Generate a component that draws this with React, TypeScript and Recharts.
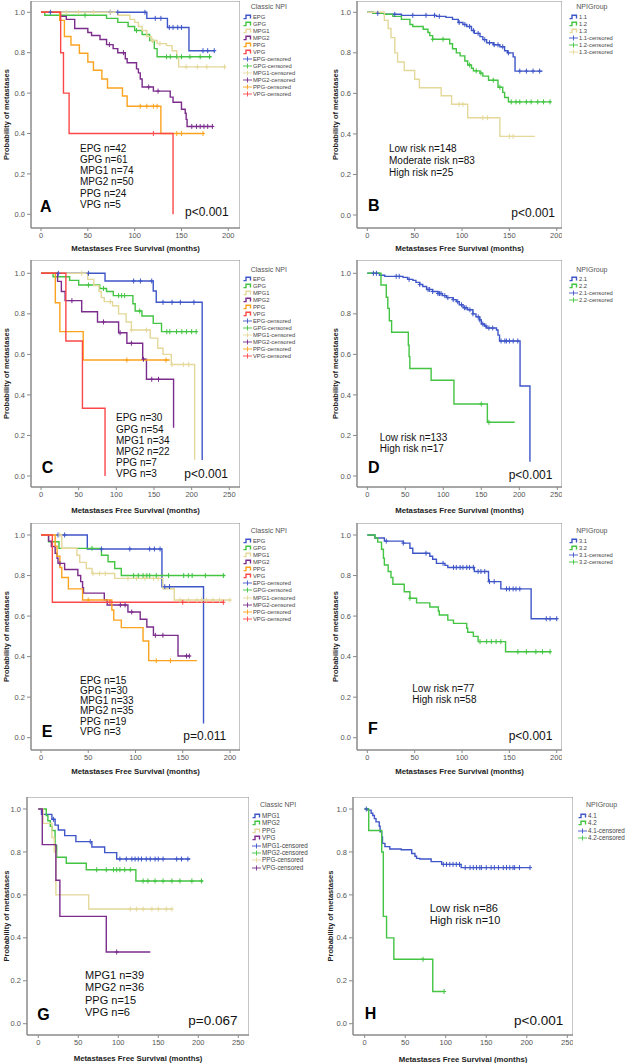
import { ComposedChart, Line, XAxis, YAxis, ReferenceArea } from "recharts"

type Pt = [number, number]

const FONT = "'Liberation Sans', Arial, sans-serif"
const BLUE = "#3f56c8"
const GREEN = "#43c443"
const KHAKI = "#e4d89a"
const PURPLE = "#7b2c8c"
const ORANGE = "#fba31e"
const RED = "#fb4848"

// survival curves: [months, survival] steps, plus censored times

// A - classic NPI, whole cohort
const aEpg: Pt[] = [[0, 1], [113, 0.97], [135, 0.925], [158, 0.81], [186, 0.81]]
const aEpgCens = [10, 74, 82, 111, 122, 128, 137, 141, 146, 150, 173, 178, 185]
const aGpg: Pt[] = [[0, 1], [4, 0.985], [70, 0.97], [82, 0.95], [93, 0.93], [100, 0.91], [108, 0.89], [116, 0.86], [121, 0.82], [124, 0.78], [182, 0.78]]
const aGpgCens = [47, 102, 134, 138, 145, 150, 159, 170, 180]
const aMpg1: Pt[] = [[0, 1], [82, 0.985], [95, 0.965], [100, 0.95], [104, 0.93], [108, 0.91], [113, 0.88], [118, 0.86], [124, 0.845], [134, 0.835], [140, 0.81], [145, 0.78], [147, 0.73], [197, 0.73]]
const aMpg1Cens = [27, 40, 56, 74, 119, 127, 155, 167, 177, 196]
const aMpg2: Pt[] = [[0, 1], [20, 0.98], [27, 0.965], [36, 0.92], [50, 0.9], [54, 0.885], [63, 0.865], [70, 0.84], [77, 0.82], [82, 0.8], [90, 0.77], [92, 0.75], [102, 0.72], [104, 0.7], [106, 0.67], [108, 0.63], [120, 0.61], [138, 0.58], [141, 0.555], [150, 0.52], [154, 0.5], [155, 0.47], [156, 0.435], [184, 0.435]]
const aMpg2Cens = [73, 88, 115, 125, 161, 166, 170, 174, 178, 183]
const aPpg: Pt[] = [[0, 1], [20, 0.96], [25, 0.88], [32, 0.838], [41, 0.797], [50, 0.754], [56, 0.713], [65, 0.67], [71, 0.625], [87, 0.586], [92, 0.535], [128, 0.4], [174, 0.4]]
const aPpgCens = [106, 113, 120, 124, 145, 150, 173]
const aVpg: Pt[] = [[0, 1], [21, 0.8], [24, 0.6], [30, 0.4], [141, 0]]
const aVpgCens = [120]
const aCounts = [42, 61, 74, 50, 24, 5]

// B - NPI groups, whole cohort
const b11: Pt[] = [[0, 1], [6, 0.995], [18, 0.99], [36, 0.985], [73, 0.98], [83, 0.975], [90, 0.965], [96, 0.95], [101, 0.94], [105, 0.93], [110, 0.91], [113, 0.896], [119, 0.88], [122, 0.865], [126, 0.85], [133, 0.84], [140, 0.83], [145, 0.81], [148, 0.8], [154, 0.78], [156, 0.71], [185, 0.71]]
const b11Cens = [11, 29, 48, 62, 71, 76, 97, 103, 108, 112, 117, 124, 129, 134, 138, 143, 149, 161, 168, 175, 182]
const b12: Pt[] = [[0, 1], [6, 0.995], [18, 0.99], [27, 0.98], [36, 0.965], [45, 0.94], [48, 0.93], [59, 0.916], [64, 0.9], [66, 0.885], [69, 0.867], [87, 0.845], [90, 0.82], [94, 0.8], [98, 0.785], [103, 0.76], [106, 0.74], [110, 0.724], [112, 0.711], [119, 0.7], [122, 0.685], [128, 0.665], [138, 0.63], [143, 0.605], [145, 0.58], [149, 0.558], [194, 0.558]]
const b12Cens = [69, 80, 108, 115, 120, 133, 140, 152, 157, 161, 168, 173, 180, 186, 193]
const b13: Pt[] = [[0, 1], [18, 0.96], [22, 0.92], [25, 0.875], [29, 0.8], [32, 0.755], [39, 0.713], [50, 0.67], [55, 0.628], [78, 0.588], [89, 0.546], [106, 0.48], [140, 0.388], [177, 0.388]]
const b13Cens = [97, 101, 122, 127, 150, 154]
const bCounts = [148, 83, 25]

// C
const cEpg: Pt[] = [[0, 1], [85, 0.962], [149, 0.913], [153, 0.857], [214, 0.079]]
const cEpgCens = [23, 63, 123, 132, 147, 162, 174, 185, 203]
const cGpg: Pt[] = [[0, 1], [16, 0.983], [38, 0.965], [50, 0.942], [78, 0.925], [87, 0.91], [96, 0.89], [122, 0.85], [125, 0.814], [134, 0.789], [149, 0.753], [160, 0.712], [207, 0.712]]
const cGpgCens = [63, 83, 103, 107, 111, 131, 167, 171, 180, 187, 193, 200, 206]
const cMpg1: Pt[] = [[0, 1], [62, 0.97], [70, 0.94], [77, 0.91], [80, 0.88], [84, 0.86], [95, 0.84], [103, 0.8], [113, 0.76], [120, 0.72], [145, 0.68], [155, 0.63], [162, 0.6], [173, 0.55], [204, 0.08]]
const cMpg1Cens = [54, 92, 120, 140, 174, 189, 196]
const cMpg2: Pt[] = [[0, 1], [22, 0.96], [27, 0.91], [32, 0.865], [54, 0.81], [75, 0.76], [103, 0.707], [114, 0.655], [135, 0.576], [140, 0.477], [176, 0.238]]
const cMpg2Cens = [41, 83, 105, 120, 136, 147, 156]
const cPpg: Pt[] = [[0, 1], [19, 0.855], [25, 0.712], [56, 0.572], [171, 0.572]]
const cPpgCens = [114, 166]
const cVpg: Pt[] = [[0, 1], [33, 0.666], [55, 0.334], [85, 0]]
const cVpgCens: number[] = []
const cCounts = [30, 54, 34, 22, 7, 3]

// D
const d21: Pt[] = [[0, 1], [16, 0.99], [23, 0.985], [47, 0.98], [53, 0.97], [60, 0.965], [64, 0.955], [69, 0.945], [73, 0.935], [78, 0.92], [86, 0.91], [93, 0.9], [99, 0.89], [104, 0.88], [113, 0.87], [117, 0.86], [121, 0.845], [126, 0.83], [132, 0.82], [139, 0.8], [143, 0.785], [148, 0.77], [150, 0.75], [154, 0.74], [157, 0.73], [170, 0.72], [172, 0.695], [174, 0.666], [201, 0.444], [214, 0.07]]
const d21Cens = [8, 12, 38, 42, 55, 69, 80, 82, 86, 93, 95, 97, 102, 106, 113, 119, 124, 128, 130, 135, 139, 146, 148, 152, 156, 160, 165, 176, 181, 183, 187, 192, 198]
const d22: Pt[] = [[0, 1], [18, 0.942], [25, 0.882], [27, 0.827], [29, 0.766], [32, 0.709], [54, 0.645], [55, 0.589], [56, 0.53], [84, 0.472], [114, 0.355], [158, 0.265], [194, 0.265]]
const d22Cens = [150, 160]
const dCounts = [133, 17]

// E
const eEpg: Pt[] = [[0, 1], [49, 0.931], [128, 0.745], [172, 0.07]]
const eEpgCens = [18, 25, 64, 94, 115, 120, 126, 131, 136]
const eGpg: Pt[] = [[0, 1], [8, 0.967], [19, 0.934], [64, 0.9], [71, 0.868], [78, 0.835], [85, 0.8], [195, 0.8]]
const eGpgCens = [54, 98, 103, 108, 112, 115, 122, 135, 151, 156, 160, 174, 193]
const eMpg1: Pt[] = [[0, 1], [22, 0.935], [38, 0.9], [41, 0.865], [48, 0.835], [54, 0.81], [78, 0.786], [129, 0.735], [141, 0.679], [200, 0.679]]
const eMpg1Cens = [20, 55, 62, 68, 92, 101, 110, 119, 124, 147, 156, 165, 170, 175, 182, 189, 200]
const eMpg2: Pt[] = [[0, 1], [8, 0.97], [11, 0.943], [15, 0.91], [17, 0.885], [18, 0.86], [25, 0.83], [39, 0.8], [42, 0.77], [44, 0.74], [45, 0.713], [67, 0.68], [70, 0.655], [92, 0.62], [105, 0.584], [112, 0.546], [119, 0.505], [145, 0.403], [158, 0.403]]
const eMpg2Cens = [20, 84, 89, 96, 121, 129, 154, 157]
const ePpg: Pt[] = [[0, 1], [15, 0.945], [17, 0.895], [20, 0.84], [22, 0.79], [29, 0.734], [44, 0.679], [75, 0.63], [77, 0.58], [85, 0.543], [108, 0.477], [114, 0.38], [165, 0.38]]
const ePpgCens = [50, 122, 137]
const eVpg: Pt[] = [[0, 1], [12, 0.668], [193, 0.668]]
const eVpgCens = [73, 150, 193]
const eCounts = [15, 30, 33, 35, 19, 3]

// F
const f31: Pt[] = [[0, 1], [8, 0.985], [18, 0.97], [38, 0.96], [45, 0.935], [48, 0.91], [66, 0.895], [69, 0.88], [73, 0.86], [82, 0.85], [85, 0.84], [113, 0.82], [128, 0.77], [141, 0.734], [173, 0.587], [201, 0.587]]
const f31Cens = [20, 38, 62, 80, 91, 94, 98, 101, 105, 108, 112, 117, 120, 124, 129, 134, 147, 150, 154, 157, 161, 189, 193, 200]
const f32: Pt[] = [[0, 1], [8, 0.985], [11, 0.965], [15, 0.93], [17, 0.885], [18, 0.852], [22, 0.82], [25, 0.79], [27, 0.757], [39, 0.72], [45, 0.688], [52, 0.665], [66, 0.645], [75, 0.625], [76, 0.605], [85, 0.58], [91, 0.564], [105, 0.54], [106, 0.52], [112, 0.5], [117, 0.474], [146, 0.424], [194, 0.424]]
const f32Cens = [45, 119, 126, 131, 136, 141, 159, 168, 178, 185, 193]
const fCounts = [77, 58]

// G
const gMpg1: Pt[] = [[0, 1], [4, 0.975], [17, 0.952], [21, 0.925], [25, 0.902], [33, 0.876], [47, 0.848], [67, 0.823], [83, 0.797], [98, 0.767], [190, 0.767]]
const gMpg1Cens = [19, 65, 102, 110, 117, 121, 125, 129, 135, 140, 146, 150, 156, 173, 179, 187]
const gMpg2: Pt[] = [[0, 1], [10, 0.97], [12, 0.945], [15, 0.92], [17, 0.9], [21, 0.83], [23, 0.775], [35, 0.747], [60, 0.717], [122, 0.665], [206, 0.665]]
const gMpg2Cens = [73, 85, 94, 98, 102, 108, 115, 131, 137, 146, 156, 167, 177, 192, 204]
const gPpg: Pt[] = [[0, 1], [6, 0.933], [17, 0.867], [20, 0.8], [22, 0.6], [63, 0.534], [167, 0.534]]
const gPpgCens = [115, 123, 131, 142, 150, 160, 167]
const gVpg: Pt[] = [[0, 1], [5, 0.834], [22, 0.668], [27, 0.5], [85, 0.334], [140, 0.334]]
const gVpgCens = [98]
const gCounts = [39, 36, 15, 6]

// H
const h41: Pt[] = [[0, 1], [4, 0.995], [8, 0.98], [10, 0.97], [12, 0.955], [14, 0.94], [18, 0.92], [19, 0.894], [21, 0.87], [22, 0.84], [25, 0.825], [31, 0.814], [45, 0.81], [58, 0.793], [62, 0.78], [64, 0.77], [68, 0.767], [82, 0.755], [95, 0.742], [119, 0.727], [204, 0.727]]
const h41Cens = [2, 97, 101, 105, 109, 113, 117, 124, 130, 134, 138, 142, 144, 150, 156, 160, 165, 171, 175, 179, 183, 185, 191, 204]
const h42: Pt[] = [[0, 1], [5, 0.9], [21, 0.8], [23, 0.5], [27, 0.4], [36, 0.3], [84, 0.15], [98, 0.15]]
const h42Cens = [72, 98]
const hCounts = [86, 10]

const yTicks = [0, 0.2, 0.4, 0.6, 0.8, 1.0]
const ticks200 = [0, 50, 100, 150, 200]
const ticks250 = [0, 50, 100, 150, 200, 250]
const riskNames2 = ["Low risk", "High risk"]
const riskNames3 = ["Low risk", "Moderate risk", "High risk"]

type Series = { name: string; color: string; curve: Pt[]; cens: number[] }
type Box = { x: number; y: number; w: number; h: number }
type Panel = {
  key: string
  left: number
  box: Box
  xDomain: [number, number]
  yDomain: [number, number]
  xTicks: number[]
  yLabelX: number
  xLabelY: number
  series: Series[]
  legend: { title: string; titleX: number; titleY: number; glyphX: number; rowY: number; step: number; size: number }
  notes: string[]
  note: { x: number; y: number; step: number; size: number }
  letter: { x: number; y: number }
  p: { text: string; x: number; y: number; size: number }
}

const stepAt = (curve: Pt[], t: number) => {
  let v = curve[0][1]
  for (const [ct, cv] of curve) if (ct <= t) v = cv
  return v
}

const label = (names: string[], counts: number[]) => names.map((n, i) => `${n} n=${counts[i]}`)

const panels: Panel[] = [
  {
    key: "A", left: 0, box: { x: 31, y: 1, w: 209, h: 227 }, xDomain: [-10.68, 212.5], yDomain: [-0.0678, 1.0559], xTicks: ticks200, yLabelX: 6, xLabelY: 248.3,
    series: [
      { name: "EPG", color: BLUE, curve: aEpg, cens: aEpgCens },
      { name: "GPG", color: GREEN, curve: aGpg, cens: aGpgCens },
      { name: "MPG1", color: KHAKI, curve: aMpg1, cens: aMpg1Cens },
      { name: "MPG2", color: PURPLE, curve: aMpg2, cens: aMpg2Cens },
      { name: "PPG", color: ORANGE, curve: aPpg, cens: aPpgCens },
      { name: "VPG", color: RED, curve: aVpg, cens: aVpgCens },
    ],
    legend: { title: "Classic NPI", titleX: 250.7, titleY: 6, glyphX: 243, rowY: 17.3, step: 7, size: 5.8 },
    notes: label(["EPG", "GPG", "MPG1", "MPG2", "PPG", "VPG"], aCounts),
    note: { x: 80, y: 148.7, step: 11.2, size: 10 },
    letter: { x: 40, y: 206.7 },
    p: { text: "p<0.001", x: 185, y: 212.3, size: 12 },
  },
  {
    key: "B", left: 313, box: { x: 357, y: 1, w: 205, h: 227 }, xDomain: [-10.9, 205.6], yDomain: [-0.0641, 1.0557], xTicks: ticks200, yLabelX: 335, xLabelY: 248.3,
    series: [
      { name: "1.1", color: BLUE, curve: b11, cens: b11Cens },
      { name: "1.2", color: GREEN, curve: b12, cens: b12Cens },
      { name: "1.3", color: KHAKI, curve: b13, cens: b13Cens },
    ],
    legend: { title: "NPIGroup", titleX: 576.3, titleY: 6.7, glyphX: 569, rowY: 17.3, step: 7, size: 5.8 },
    notes: label(riskNames3, bCounts),
    note: { x: 389, y: 149.3, step: 11.7, size: 10 },
    letter: { x: 368, y: 205.7 },
    p: { text: "p<0.001", x: 511.3, y: 212.7, size: 12 },
  },
  {
    key: "C", left: 0, box: { x: 31, y: 260, w: 209, h: 227 }, xDomain: [-13.3, 264.2], yDomain: [-0.0543, 1.0656], xTicks: ticks250, yLabelX: 6, xLabelY: 510,
    series: [
      { name: "EPG", color: BLUE, curve: cEpg, cens: cEpgCens },
      { name: "GPG", color: GREEN, curve: cGpg, cens: cGpgCens },
      { name: "MPG1", color: KHAKI, curve: cMpg1, cens: cMpg1Cens },
      { name: "MPG2", color: PURPLE, curve: cMpg2, cens: cMpg2Cens },
      { name: "PPG", color: ORANGE, curve: cPpg, cens: cPpgCens },
      { name: "VPG", color: RED, curve: cVpg, cens: cVpgCens },
    ],
    legend: { title: "Classic NPI", titleX: 250.7, titleY: 269, glyphX: 243, rowY: 279.3, step: 7, size: 5.8 },
    notes: label(["EPG", "GPG", "MPG1", "MPG2", "PPG", "VPG"], cCounts),
    note: { x: 116, y: 418.3, step: 11.1, size: 10 },
    letter: { x: 41.7, y: 467.7 },
    p: { text: "p<0.001", x: 184.3, y: 474, size: 12 },
  },
  {
    key: "D", left: 313, box: { x: 357, y: 260, w: 205, h: 227 }, xDomain: [-13.55, 256.2], yDomain: [-0.0543, 1.0656], xTicks: ticks250, yLabelX: 335, xLabelY: 510,
    series: [
      { name: "2.1", color: BLUE, curve: d21, cens: d21Cens },
      { name: "2.2", color: GREEN, curve: d22, cens: d22Cens },
    ],
    legend: { title: "NPIGroup", titleX: 576.3, titleY: 269, glyphX: 569, rowY: 279.3, step: 7, size: 5.8 },
    notes: label(riskNames2, dCounts),
    note: { x: 379.7, y: 438.3, step: 11, size: 10 },
    letter: { x: 368, y: 468.3 },
    p: { text: "p<0.001", x: 508.7, y: 475, size: 12 },
  },
  {
    key: "E", left: 0, box: { x: 31, y: 523, w: 209, h: 227 }, xDomain: [-10.58, 210.6], yDomain: [-0.0607, 1.0592], xTicks: ticks200, yLabelX: 6, xLabelY: 771,
    series: [
      { name: "EPG", color: BLUE, curve: eEpg, cens: eEpgCens },
      { name: "GPG", color: GREEN, curve: eGpg, cens: eGpgCens },
      { name: "MPG1", color: KHAKI, curve: eMpg1, cens: eMpg1Cens },
      { name: "MPG2", color: PURPLE, curve: eMpg2, cens: eMpg2Cens },
      { name: "PPG", color: ORANGE, curve: ePpg, cens: ePpgCens },
      { name: "VPG", color: RED, curve: eVpg, cens: eVpgCens },
    ],
    legend: { title: "Classic NPI", titleX: 250.7, titleY: 530, glyphX: 243, rowY: 540.7, step: 7.1, size: 5.8 },
    notes: label(["EPG", "GPG", "MPG1", "MPG2", "PPG", "VPG"], eCounts),
    note: { x: 80, y: 680.7, step: 10.2, size: 10 },
    letter: { x: 41.7, y: 731.7 },
    p: { text: "p=0.011", x: 183.3, y: 735.7, size: 12 },
  },
  {
    key: "F", left: 313, box: { x: 357, y: 523, w: 205, h: 227 }, xDomain: [-10.9, 205.6], yDomain: [-0.0607, 1.0592], xTicks: ticks200, yLabelX: 335, xLabelY: 771,
    series: [
      { name: "3.1", color: BLUE, curve: f31, cens: f31Cens },
      { name: "3.2", color: GREEN, curve: f32, cens: f32Cens },
    ],
    legend: { title: "NPIGroup", titleX: 576.3, titleY: 530, glyphX: 569, rowY: 540.7, step: 7, size: 5.8 },
    notes: label(riskNames2, fCounts),
    note: { x: 412.3, y: 689, step: 11, size: 10 },
    letter: { x: 368, y: 729 },
    p: { text: "p<0.001", x: 508.7, y: 735.7, size: 12 },
  },
  {
    key: "G", left: 0, box: { x: 27, y: 797, w: 222, h: 238 }, xDomain: [-14.1, 263.4], yDomain: [-0.0526, 1.0559], xTicks: ticks250, yLabelX: 6.7, xLabelY: 1058.3,
    series: [
      { name: "MPG1", color: BLUE, curve: gMpg1, cens: gMpg1Cens },
      { name: "MPG2", color: GREEN, curve: gMpg2, cens: gMpg2Cens },
      { name: "PPG", color: KHAKI, curve: gPpg, cens: gPpgCens },
      { name: "VPG", color: PURPLE, curve: gVpg, cens: gVpgCens },
    ],
    legend: { title: "Classic NPI", titleX: 260, titleY: 804.3, glyphX: 252, rowY: 816, step: 7.4, size: 6.3 },
    notes: label(["MPG1", "MPG2", "PPG", "VPG"], gCounts),
    note: { x: 85, y: 975.3, step: 12.3, size: 11 },
    letter: { x: 37.3, y: 1015 },
    p: { text: "p=0.067", x: 188.3, y: 1020.7, size: 13.5 },
  },
  {
    key: "H", left: 313, box: { x: 353, y: 797, w: 220, h: 238 }, xDomain: [-14.4, 257], yDomain: [-0.0526, 1.0559], xTicks: ticks250, yLabelX: 330, xLabelY: 1059,
    series: [
      { name: "4.1", color: BLUE, curve: h41, cens: h41Cens },
      { name: "4.2", color: GREEN, curve: h42, cens: h42Cens },
    ],
    legend: { title: "NPIGroup", titleX: 586, titleY: 804.3, glyphX: 578, rowY: 816, step: 7.4, size: 6.3 },
    notes: label(riskNames2, hCounts),
    note: { x: 429.7, y: 908.3, step: 12.3, size: 11 },
    letter: { x: 364.7, y: 1014.3 },
    p: { text: "p<0.001", x: 514, y: 1020.7, size: 13.5 },
  },
]

const FRAME = "#8a8a8a"

function KMChart({ p }: { p: Panel }) {
  const yw = p.box.x - p.left
  const xh = 40
  const W = yw + p.box.w
  const H = p.box.h + xh
  const bottom = p.box.y + p.box.h
  return (
    <div style={{ position: "absolute", left: p.left, top: p.box.y }}>
      <ComposedChart width={W} height={H} margin={{ top: 0, right: 0, bottom: 0, left: 0 }}>
        <XAxis
          type="number"
          dataKey="t"
          domain={p.xDomain}
          ticks={p.xTicks}
          allowDataOverflow
          height={xh}
          stroke={FRAME}
          tickSize={3}
          tickMargin={1.5}
          tick={{ fontSize: 7.5, fill: "#555" }}
          label={{ value: "Metastases Free Survival (months)", position: "center", dy: p.xLabelY - (bottom + xh / 2), fontSize: 7.8, fontWeight: "bold", fill: "#222" }}
        />
        <YAxis
          type="number"
          domain={p.yDomain}
          ticks={yTicks}
          allowDataOverflow
          width={yw}
          stroke={FRAME}
          tickSize={4}
          tickMargin={2}
          tick={{ fontSize: 7.5, fill: "#555" }}
          tickFormatter={(v: number) => v.toFixed(1)}
          label={{ value: "Probability of metastases", angle: -90, position: "center", dx: p.yLabelX - (p.left + yw / 2), fontSize: 7.5, fontWeight: "bold", fill: "#222" }}
        />
        <ReferenceArea x1={p.xDomain[0]} x2={p.xDomain[1]} y1={p.yDomain[0]} y2={p.yDomain[1]} fill="none" stroke={FRAME} ifOverflow="visible" />
        {p.series.map((s) => (
          <Line
            key={s.name}
            data={s.curve.map(([t, v]) => ({ t, s: v }))}
            dataKey="s"
            type="stepAfter"
            stroke={s.color}
            strokeWidth={1.4}
            dot={false}
            activeDot={false}
            isAnimationActive={false}
          />
        ))}
        {p.series.map((s) => (
          <Line
            key={s.name + "-censored"}
            data={s.cens.map((t) => ({ t, s: stepAt(s.curve, t) }))}
            dataKey="s"
            stroke="none"
            activeDot={false}
            isAnimationActive={false}
            dot={(d: any) => (
              <path key={d.index} d={`M${d.cx - 2},${d.cy}h4M${d.cx},${d.cy - 2.5}v5`} stroke={s.color} strokeWidth={1} fill="none" />
            )}
          />
        ))}
      </ComposedChart>
    </div>
  )
}

function KMLegend({ p }: { p: Panel }) {
  const { legend } = p
  const rows = [
    ...p.series.map((s) => ({ label: s.name, color: s.color, cens: false })),
    ...p.series.map((s) => ({ label: s.name + "-censored", color: s.color, cens: true })),
  ]
  return (
    <>
      <div style={{ position: "absolute", left: legend.titleX, top: legend.titleY - 3.5, fontSize: 7, lineHeight: "7px", color: "#555", whiteSpace: "nowrap" }}>
        {legend.title}
      </div>
      {rows.map((r, i) => (
        <div
          key={r.label}
          style={{
            position: "absolute",
            left: legend.glyphX,
            top: legend.rowY + i * legend.step - 3,
            height: 6,
            display: "flex",
            alignItems: "center",
            fontSize: legend.size,
            lineHeight: "6px",
            color: "#444",
            whiteSpace: "nowrap",
          }}
        >
          <svg width={10} height={6} style={{ display: "block" }}>
            {r.cens ? (
              <path d="M0,3H9M4.5,0.5V5.5" stroke={r.color} strokeWidth={0.9} fill="none" />
            ) : (
              <path d="M0.5,4.6H3V1.2H7.5V4.6" stroke={r.color} strokeWidth={1.4} fill="none" />
            )}
          </svg>
          <span>{r.label}</span>
        </div>
      ))}
    </>
  )
}

function KMNotes({ p }: { p: Panel }) {
  return (
    <>
      {p.notes.map((n, i) => (
        <div key={n} style={{ position: "absolute", left: p.note.x, top: p.note.y + i * p.note.step - 0.49 * p.note.size, fontSize: p.note.size, lineHeight: 1, color: "#111", whiteSpace: "nowrap" }}>
          {n}
        </div>
      ))}
      <div style={{ position: "absolute", left: p.letter.x, top: p.letter.y - 0.49 * 16, fontSize: 16, fontWeight: "bold", lineHeight: 1, color: "#000" }}>{p.key}</div>
      <div style={{ position: "absolute", left: p.p.x, top: p.p.y - 0.49 * p.p.size, fontSize: p.p.size, lineHeight: 1, color: "#111", whiteSpace: "nowrap" }}>
        {p.p.text}
      </div>
    </>
  )
}

export default function App() {
  return (
    <div style={{ position: "absolute", left: 0, top: 0, width: 626, height: 1063, overflow: "hidden", background: "#fff", fontFamily: FONT }}>
      {panels.map((p) => (
        <div key={p.key}>
          <KMChart p={p} />
          <KMLegend p={p} />
          <KMNotes p={p} />
        </div>
      ))}
    </div>
  )
}
